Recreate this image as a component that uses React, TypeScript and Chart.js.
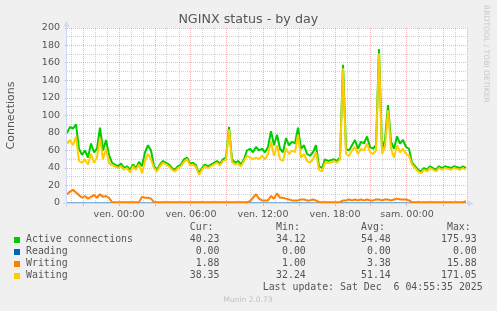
import React, { useEffect, useRef } from 'react';
import { Chart, registerables } from 'chart.js';

Chart.register(...registerables);

// ---- time axis (hours relative to "ven. 00:00") ----
const START_HOUR = -13 / 3; // 19:40 the day before
const END_HOUR = 29; // sam. 05:00
const STEP_HOURS = 0.25; // one reading every 15 minutes

const xTickHours = [0, 6, 12, 18, 24];
const xTickLabels = ['ven. 00:00', 'ven. 06:00', 'ven. 12:00', 'ven. 18:00', 'sam. 00:00'];

// ---- series ----
const activeConnections = [
  80, 87, 85, 90, 62, 55, 60, 52, 68, 58,
  62, 86, 60, 72, 55, 46, 44, 42, 45, 40,
  42, 38, 44, 40, 47, 42, 58, 66, 60, 42,
  38, 44, 48, 46, 44, 40, 38, 42, 44, 50,
  52, 45, 46, 43, 34, 40, 44, 42, 44, 46,
  48, 45, 50, 52, 87, 50, 46, 48, 44, 50,
  60, 62, 58, 64, 60, 62, 58, 64, 82, 66,
  78, 62, 58, 74, 66, 70, 68, 86, 62, 66,
  56, 54, 58, 66, 42, 40, 50, 48, 49, 50,
  48, 52, 158, 62, 60, 66, 72, 62, 70, 68,
  76, 64, 62, 66, 176, 62, 72, 112, 70, 62,
  76, 68, 72, 64, 62, 46, 42, 38, 36, 40,
  38, 42, 40, 38, 42, 40, 42, 41, 40, 42,
  41, 40, 42, 40,
];

const reading = [
  0, 0, 0, 0, 0, 0, 0, 0, 0, 0,
  0, 0, 0, 0, 0, 0, 0, 0, 0, 0,
  0, 0, 0, 0, 0, 0, 0, 0, 0, 0,
  0, 0, 0, 0, 0, 0, 0, 0, 0, 0,
  0, 0, 0, 0, 0, 0, 0, 0, 0, 0,
  0, 0, 0, 0, 0, 0, 0, 0, 0, 0,
  0, 0, 0, 0, 0, 0, 0, 0, 0, 0,
  0, 0, 0, 0, 0, 0, 0, 0, 0, 0,
  0, 0, 0, 0, 0, 0, 0, 0, 0, 0,
  0, 0, 0, 0, 0, 0, 0, 0, 0, 0,
  0, 0, 0, 0, 0, 0, 0, 0, 0, 0,
  0, 0, 0, 0, 0, 0, 0, 0, 0, 0,
  0, 0, 0, 0, 0, 0, 0, 0, 0, 0,
  0, 0, 0, 0,
];

const writing = [
  10, 13, 15, 12, 9, 6, 8, 5, 7, 9,
  6, 10, 7, 8, 6, 1, 1, 1, 1, 1,
  1, 1, 1, 1, 1, 7, 6, 6, 5, 1,
  1, 1, 1, 1, 1, 1, 1, 1, 1, 1,
  1, 1, 1, 1, 1, 1, 1, 1, 1, 1,
  1, 1, 1, 1, 1, 1, 1, 1, 1, 1,
  1, 2, 6, 10, 5, 3, 3, 3, 8, 5,
  11, 6, 6, 5, 4, 3, 3, 3, 4, 4,
  3, 3, 4, 3, 1, 1, 1, 1, 1, 1,
  1, 1, 3, 3, 4, 3, 4, 3, 4, 3,
  4, 3, 3, 4, 4, 3, 4, 4, 3, 4,
  5, 4, 4, 4, 3, 1, 1, 1, 1, 1,
  1, 1, 1, 1, 1, 1, 1, 1, 1, 1,
  1, 1, 1, 2,
];

const waiting = [
  68, 72, 66, 76, 48, 46, 50, 44, 56, 46,
  52, 74, 50, 62, 46, 43, 42, 40, 42, 38,
  40, 35, 42, 38, 44, 34, 48, 56, 50, 40,
  36, 42, 46, 44, 42, 38, 36, 40, 42, 47,
  50, 43, 44, 41, 32, 38, 42, 40, 42, 44,
  46, 43, 48, 49, 84, 47, 44, 45, 42, 48,
  54, 52, 50, 52, 50, 54, 50, 56, 70, 54,
  66, 50, 48, 62, 56, 60, 58, 78, 52, 56,
  48, 46, 50, 58, 38, 36, 46, 46, 46, 48,
  46, 50, 154, 56, 54, 60, 64, 56, 62, 60,
  68, 58, 56, 60, 171, 56, 64, 106, 62, 52,
  66, 58, 62, 56, 54, 44, 40, 36, 34, 38,
  36, 40, 38, 36, 40, 38, 40, 39, 38, 40,
  39, 38, 40, 38,
];

// ---- legend table ----
const legendLabels = ['Active connections', 'Reading', 'Writing', 'Waiting'];
const statHeaders = ['Cur:', 'Min:', 'Avg:', 'Max:'];
const curValues = [40.23, 0.0, 1.88, 38.35];
const minValues = [34.12, 0.0, 1.0, 32.24];
const avgValues = [54.48, 0.0, 3.38, 51.14];
const maxValues = [175.93, 0.0, 15.88, 171.05];

const TITLE = 'NGINX status - by day';
const Y_TITLE = 'Connections';
const LAST_UPDATE = 'Last update: Sat Dec  6 04:55:35 2025';
const VERSION = 'Munin 2.0.73';
const WATERMARK = 'RRDTOOL / TOBI OETIKER';

// ---- styles ----
const COLORS = ['#00CC00', '#0066B3', '#FF8000', '#FFCC00'];
const BACK = '#F0F0F0';
const FONT_COLOR = '#555555';
const AXIS_COLOR = '#CFD6F8';
const GRID = 'rgba(143,143,143,0.4)';
const MGRID = 'rgba(222,79,79,0.42)';
const SANS = '"DejaVu Sans", sans-serif';
const MONO = '"DejaVu Sans Mono", monospace';

const toPoints = (vals: number[]) =>
  vals.map((v, i) => ({ x: START_HOUR + i * STEP_HOURS, y: v }));

const muninPlugin = {
  id: 'muninFrame',
  beforeDraw(chart: any) {
    const { ctx, chartArea: a } = chart;
    ctx.save();
    ctx.fillStyle = BACK;
    ctx.fillRect(0, 0, chart.width, chart.height);
    ctx.fillStyle = '#FFFFFF';
    ctx.fillRect(a.left, a.top, a.right - a.left, a.bottom - a.top);
    ctx.restore();
  },
  afterDatasetsDraw(chart: any) {
    const { ctx, chartArea: a } = chart;
    ctx.save();
    ctx.strokeStyle = AXIS_COLOR;
    ctx.fillStyle = AXIS_COLOR;
    ctx.lineWidth = 1;
    const yb = a.bottom + 0.5;
    const xl = a.left - 0.5;
    ctx.beginPath();
    ctx.moveTo(a.left - 4, yb);
    ctx.lineTo(a.right + 3, yb);
    ctx.moveTo(xl, a.bottom + 4);
    ctx.lineTo(xl, a.top - 3);
    ctx.stroke();
    // arrows
    ctx.beginPath();
    ctx.moveTo(a.right + 1, yb - 3);
    ctx.lineTo(a.right + 6.5, yb);
    ctx.lineTo(a.right + 1, yb + 3);
    ctx.closePath();
    ctx.fill();
    ctx.beginPath();
    ctx.moveTo(xl - 3, a.top - 1.5);
    ctx.lineTo(xl, a.top - 7);
    ctx.lineTo(xl + 3, a.top - 1.5);
    ctx.closePath();
    ctx.fill();
    ctx.restore();
  },
  afterDraw(chart: any) {
    const { ctx } = chart;
    ctx.save();
    // title
    ctx.fillStyle = FONT_COLOR;
    ctx.font = `12.7px ${SANS}`;
    ctx.textAlign = 'center';
    ctx.textBaseline = 'middle';
    ctx.fillText(TITLE, 248.3, 19.5);

    // watermark
    ctx.save();
    ctx.translate(486, 5);
    ctx.rotate(Math.PI / 2);
    ctx.fillStyle = '#C8C8C8';
    ctx.font = `7.6px ${SANS}`;
    ctx.textAlign = 'left';
    ctx.textBaseline = 'middle';
    ctx.fillText(WATERMARK, 0, 0);
    ctx.restore();

    // legend
    const colRight = [219.5, 305.8, 390.8, 476.7];
    const charW = 5.95;
    ctx.font = `9.9px ${MONO}`;
    ctx.textBaseline = 'middle';
    ctx.fillStyle = FONT_COLOR;
    ctx.textAlign = 'right';
    statHeaders.forEach((h, c) => ctx.fillText(h, colRight[c] - charW, 227.7));
    const stats = [curValues, minValues, avgValues, maxValues];
    legendLabels.forEach((label, r) => {
      const y = 239.7 + r * 12;
      ctx.fillStyle = COLORS[r];
      ctx.fillRect(14, Math.round(y) - 3, 6, 6);
      ctx.fillStyle = FONT_COLOR;
      ctx.textAlign = 'left';
      ctx.fillText(label, 26, y);
      ctx.textAlign = 'right';
      stats.forEach((col, c) => ctx.fillText(col[r].toFixed(2), colRight[c], y));
    });
    ctx.textAlign = 'right';
    ctx.fillText(LAST_UPDATE, 482.7, 287.7);

    ctx.fillStyle = '#C0C0C0';
    ctx.font = `7.5px ${SANS}`;
    ctx.textAlign = 'center';
    ctx.fillText(VERSION, 248, 300);
    ctx.restore();
  },
};

export default function App() {
  const ref = useRef<HTMLCanvasElement | null>(null);

  useEffect(() => {
    if (!ref.current) return;
    const line = (
      label: string,
      vals: number[],
      color: string,
      order: number,
      width: number
    ) => ({
      label,
      data: toPoints(vals),
      borderColor: color,
      backgroundColor: color,
      borderWidth: width,
      pointRadius: 0,
      tension: 0,
      fill: false,
      borderJoinStyle: 'bevel' as const,
      order,
    });
    const chart = new Chart(ref.current, {
      type: 'line',
      data: {
        datasets: [
          line(legendLabels[0], activeConnections, COLORS[0], 3, 2),
          line(legendLabels[1], reading, COLORS[1], 2, 1),
          line(legendLabels[2], writing, COLORS[2], 1, 2),
          line(legendLabels[3], waiting, COLORS[3], 0, 2),
        ],
      },
      options: {
        responsive: false,
        animation: false,
        devicePixelRatio: 1,
        layout: { padding: { left: 0, top: 28, right: 30, bottom: 88 } },
        plugins: {
          legend: { display: false },
          tooltip: { enabled: false },
          title: { display: false },
        },
        scales: {
          x: {
            type: 'linear',
            min: START_HOUR,
            max: END_HOUR,
            afterFit: (s: any) => {
              s.height = 20;
            },
            ticks: {
              stepSize: 1,
              maxTicksLimit: 1000,
              includeBounds: false,
              autoSkip: false,
              maxRotation: 0,
              padding: 3,
              color: FONT_COLOR,
              font: { family: SANS, size: 9.5 },
              callback: (v: any) => {
                const idx = xTickHours.indexOf(Math.round(Number(v) * 1000) / 1000);
                return idx >= 0 ? xTickLabels[idx] : '';
              },
            },
            grid: {
              color: (c: any) =>
                c.tick && Math.round(c.tick.value) % 3 === 0 ? MGRID : GRID,
              tickColor: (c: any) =>
                c.tick && Math.round(c.tick.value) % 3 === 0 ? MGRID : 'rgba(0,0,0,0)',
              lineWidth: 1,
              drawTicks: true,
              tickLength: 3,
            },
            border: { display: false, dash: [1, 1] },
          },
          y: {
            type: 'linear',
            min: 0,
            max: 200,
            afterFit: (s: any) => {
              s.width = 67;
            },
            ticks: {
              stepSize: 10,
              autoSkip: false,
              padding: 5,
              color: FONT_COLOR,
              font: { family: SANS, size: 9.5 },
              callback: (v: any) => (Number(v) % 20 === 0 ? String(v) : ''),
            },
            grid: {
              color: (c: any) =>
                c.tick && Math.round(c.tick.value) % 20 === 0 ? MGRID : GRID,
              tickColor: (c: any) =>
                c.tick && Math.round(c.tick.value) % 20 === 0 ? MGRID : 'rgba(0,0,0,0)',
              lineWidth: 1,
              drawTicks: true,
              tickLength: 2,
            },
            border: { display: false, dash: [1, 1] },
            title: {
              display: true,
              text: Y_TITLE,
              color: FONT_COLOR,
              font: { family: SANS, size: 11 },
              padding: { top: 5, bottom: 0 },
            },
          },
        },
      },
      plugins: [muninPlugin],
    });
    return () => chart.destroy();
  }, []);

  return (
    <canvas
      ref={ref}
      width={497}
      height={311}
      style={{ position: 'absolute', left: 0, top: 0, display: 'block' }}
    />
  );
}
